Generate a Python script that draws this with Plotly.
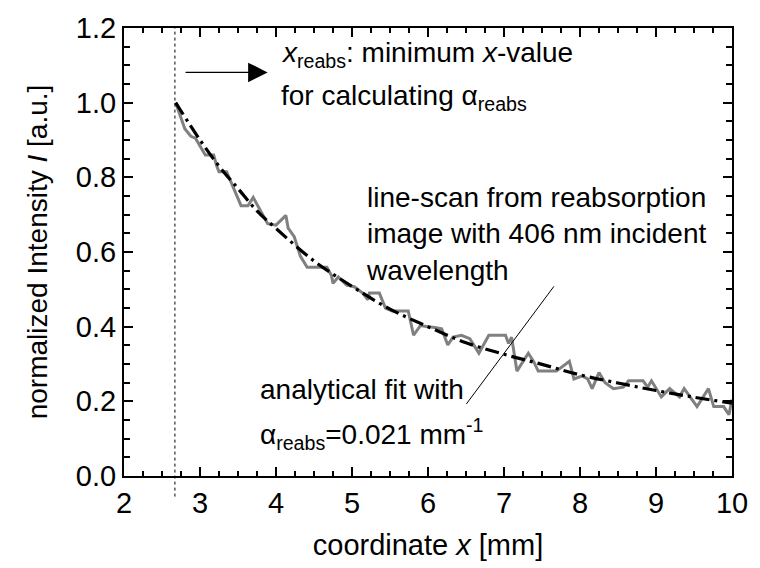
import plotly.graph_objects as go

# line-scan data
scan_x = [2.68, 2.80, 2.88, 2.94, 3.07, 3.18, 3.22, 3.25, 3.35, 3.54, 3.63, 3.70, 3.89, 4.00,
          4.13, 4.16, 4.24, 4.32, 4.41, 4.67, 4.73, 4.75, 4.82, 4.93, 5.03, 5.14, 5.21, 5.23,
          5.36, 5.44, 5.53, 5.74, 5.81, 5.90, 6.00, 6.09, 6.18, 6.26, 6.33, 6.44, 6.55, 6.67,
          6.80, 7.02, 7.06, 7.10, 7.17, 7.32, 7.39, 7.45, 7.69, 7.86, 7.92, 8.03, 8.10, 8.16,
          8.25, 8.33, 8.44, 8.57, 8.64, 8.83, 8.89, 8.94, 9.07, 9.18, 9.31, 9.37, 9.54, 9.69,
          9.76, 9.89, 9.96, 10.0]
scan_y = [1.00, 0.93, 0.91, 0.905, 0.86, 0.86, 0.83, 0.815, 0.815, 0.724, 0.724, 0.746, 0.676, 0.672,
          0.698, 0.664, 0.641, 0.589, 0.559, 0.559, 0.537, 0.516, 0.533, 0.511, 0.507, 0.49, 0.472, 0.49,
          0.49, 0.45, 0.442, 0.442, 0.377, 0.403, 0.40, 0.398, 0.394, 0.351, 0.372, 0.377, 0.368, 0.329,
          0.377, 0.377, 0.355, 0.372, 0.281, 0.329, 0.307, 0.281, 0.281, 0.307, 0.26, 0.268, 0.26, 0.234,
          0.277, 0.25, 0.234, 0.238, 0.255, 0.255, 0.238, 0.255, 0.212, 0.234, 0.212, 0.234, 0.186, 0.234,
          0.186, 0.186, 0.164, 0.205]

# analytical fit
fit_x = [2.68, 3.0, 3.25, 3.5, 3.75, 4.0, 4.5, 5.0, 5.5, 6.0, 6.5, 7.0, 7.5, 8.0, 8.5, 9.0, 9.5, 10.0]
fit_y = [1.0, 0.90, 0.83, 0.77, 0.71, 0.663, 0.576, 0.508, 0.447, 0.400, 0.357, 0.326, 0.299, 0.271,
         0.249, 0.229, 0.211, 0.195]

x_reabs = 2.67

FONT = "Liberation Sans, Arial, sans-serif"

fig = go.Figure()
fig.add_trace(go.Scatter(x=scan_x, y=scan_y, mode="lines",
                         line=dict(color="#808080", width=3), showlegend=False))
fig.add_trace(go.Scatter(x=fit_x, y=fit_y, mode="lines", line_shape="spline",
                         line=dict(color="black", width=3.2, dash="14px,5px,3px,5px"),
                         showlegend=False))

# dashed vertical marker
fig.add_shape(type="line", xref="x", yref="paper", x0=x_reabs, x1=x_reabs, y0=-0.046, y1=1,
              line=dict(color="black", width=1, dash="3px,3px"))
# pointer line
fig.add_shape(type="line", xref="x", yref="y", x0=6.505, y0=0.193, x1=7.657, y1=0.508,
              line=dict(color="black", width=1))

# arrow
fig.add_annotation(x=3.89, y=1.081, ax=2.79, ay=1.081, xref="x", yref="y", axref="x", ayref="y",
                   text="", showarrow=True, arrowhead=2, arrowsize=3, arrowwidth=1.3,
                   arrowcolor="black")

tf = dict(family=FONT, size=28, color="black")
fig.add_annotation(x=4.045, y=1.13, xref="x", yref="y", xanchor="left", yanchor="middle",
                   text="<i>x</i><sub>reabs</sub>: minimum <i>x</i>-value", showarrow=False, font=tf)
fig.add_annotation(x=4.045, y=1.014, xref="x", yref="y", xanchor="left", yanchor="middle",
                   text="for calculating α<sub>reabs</sub>", showarrow=False, font=tf)
fig.add_annotation(x=5.16, y=0.648, xref="x", yref="y", xanchor="left", yanchor="middle",
                   align="left",
                   text="line-scan from reabsorption<br>image with 406 nm incident<br>wavelength",
                   showarrow=False, font=tf)
fig.add_annotation(x=3.76, y=0.231, xref="x", yref="y", xanchor="left", yanchor="middle",
                   text="analytical fit with", showarrow=False, font=tf)
fig.add_annotation(x=3.76, y=0.112, xref="x", yref="y", xanchor="left", yanchor="middle",
                   text="α<sub>reabs</sub>=0.021 mm<sup>-1</sup>", showarrow=False, font=tf)

axis_common = dict(showline=True, linecolor="black", linewidth=2, mirror="ticks",
                   ticks="inside", ticklen=9, tickwidth=2, tickcolor="black",
                   showgrid=False, zeroline=False,
                   tickfont=dict(family=FONT, size=29, color="black"))
fig.update_xaxes(range=[2, 10], dtick=1, tick0=0,
                 minor=dict(dtick=0.25, ticks="inside", ticklen=5, tickwidth=2, tickcolor="black"),
                 title=dict(text="coordinate <i>x</i> [mm]", font=dict(family=FONT, size=29, color="black"),
                            standoff=17),
                 **axis_common)
fig.update_yaxes(range=[0, 1.2], dtick=0.2, tick0=0, tickformat=".1f",
                 minor=dict(dtick=0.05, ticks="inside", ticklen=6, tickwidth=2, tickcolor="black"),
                 title=dict(text="normalized Intensity <i>I</i> [a.u.]",
                            font=dict(family=FONT, size=28, color="black"), standoff=20),
                 **axis_common)

fig.update_layout(width=760, height=568, plot_bgcolor="white", paper_bgcolor="white",
                  margin=dict(l=124, r=18, t=17, b=90), font=dict(family=FONT))

fig.write_html("out.html")
